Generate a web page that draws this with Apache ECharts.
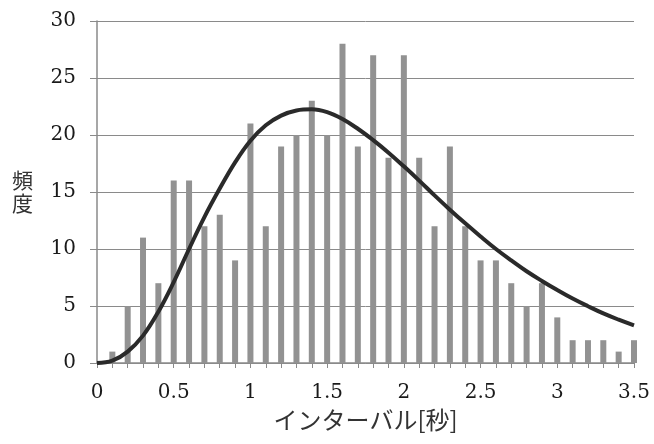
<!DOCTYPE html>
<html>
<head>
<meta charset="utf-8">
<style>
  html, body { margin: 0; padding: 0; background: #ffffff; }
  #chart { width: 654px; height: 444px; }
</style>
<script src="https://cdn.jsdelivr.net/npm/echarts@6/dist/echarts.min.js"></script>
</head>
<body>
<div id="chart"></div>
<script>
// Histogram bins (seconds) and observed counts
const binCenters = [0.1, 0.2, 0.3, 0.4, 0.5, 0.6, 0.7, 0.8, 0.9, 1.0,
                    1.1, 1.2, 1.3, 1.4, 1.5, 1.6, 1.7, 1.8, 1.9, 2.0,
                    2.1, 2.2, 2.3, 2.4, 2.5, 2.6, 2.7, 2.8, 2.9, 3.0,
                    3.1, 3.2, 3.3, 3.4, 3.5];
const counts = [1, 5, 11, 7, 16, 16, 12, 13, 9, 21,
                12, 19, 20, 23, 20, 28, 19, 27, 18, 27,
                18, 12, 19, 12, 9, 9, 7, 5, 7, 4,
                2, 2, 2, 1, 2];

// Fitted distribution curve, sampled every 0.1 s
const curveX = [0.0, 0.1, 0.2, 0.3, 0.4, 0.5, 0.6, 0.7, 0.8, 0.9,
                1.0, 1.1, 1.2, 1.3, 1.4, 1.5, 1.6, 1.7, 1.8, 1.9,
                2.0, 2.1, 2.2, 2.3, 2.4, 2.5, 2.6, 2.7, 2.8, 2.9,
                3.0, 3.1, 3.2, 3.3, 3.4, 3.5];
const curveY = [0.0, 0.2, 1.0, 2.4, 4.5, 7.1, 10.0, 12.8, 15.3, 17.6,
                19.5, 20.85, 21.7, 22.15, 22.25, 22.0, 21.4, 20.55, 19.55, 18.45,
                17.25, 16.0, 14.7, 13.45, 12.25, 11.1, 10.0, 9.0, 8.05, 7.2,
                6.4, 5.65, 4.98, 4.35, 3.8, 3.3];

// Axis tick labels
const yTicks = [0, 5, 10, 15, 20, 25, 30];
const xTicks = [0, 0.5, 1, 1.5, 2, 2.5, 3, 3.5];

const xTitle = 'インターバル[秒]';
const yTitle = '頻\n度';

const serif = '"DejaVu Serif", "Liberation Serif", serif';
const cjk = '"Noto Sans CJK JP", "Noto Sans", sans-serif';

const chart = echarts.init(document.getElementById('chart'), null, { renderer: 'canvas' });

chart.setOption({
  animation: false,
  backgroundColor: '#ffffff',
  grid: { left: 97, right: 20, top: 21, bottom: 81, containLabel: false },
  xAxis: {
    type: 'value',
    min: xTicks[0],
    max: xTicks[xTicks.length - 1],
    interval: 0.5,
    name: xTitle,
    nameLocation: 'middle',
    nameGap: 43,
    nameTextStyle: { fontFamily: cjk, fontSize: 24, color: '#333333' },
    axisLine: { show: true, lineStyle: { color: '#8a8a8a', width: 1.5 } },
    axisTick: { show: true, length: 5, lineStyle: { color: '#8a8a8a' } },
    minorTick: { show: true, splitNumber: 5, length: 5, lineStyle: { color: '#8a8a8a' } },
    splitLine: { show: false },
    axisLabel: {
      margin: 20,
      fontFamily: serif,
      fontSize: 20,
      color: '#1a1a1a',
      formatter: v => String(v)
    }
  },
  yAxis: {
    type: 'value',
    min: yTicks[0],
    max: yTicks[yTicks.length - 1],
    interval: 5,
    name: yTitle,
    nameLocation: 'middle',
    nameRotate: 0,
    nameGap: 64,
    nameTextStyle: { fontFamily: cjk, fontSize: 21, color: '#333333', lineHeight: 23 },
    axisLine: { show: true, lineStyle: { color: '#8a8a8a', width: 1.5 } },
    axisTick: { show: true, length: 7, lineStyle: { color: '#8a8a8a' } },
    splitLine: { show: true, lineStyle: { color: '#8a8a8a', width: 1 } },
    axisLabel: {
      margin: 21,
      fontFamily: serif,
      fontSize: 20,
      color: '#1a1a1a'
    }
  },
  series: [
    {
      type: 'bar',
      data: binCenters.map((x, i) => [x, counts[i]]),
      barWidth: 6,
      itemStyle: { color: '#929292' },
      z: 2
    },
    {
      type: 'line',
      data: curveX.map((x, i) => [x, curveY[i]]),
      smooth: 0.4,
      symbol: 'none',
      lineStyle: { color: '#2a2a2a', width: 4 },
      z: 3
    }
  ]
});
</script>
</body>
</html>
